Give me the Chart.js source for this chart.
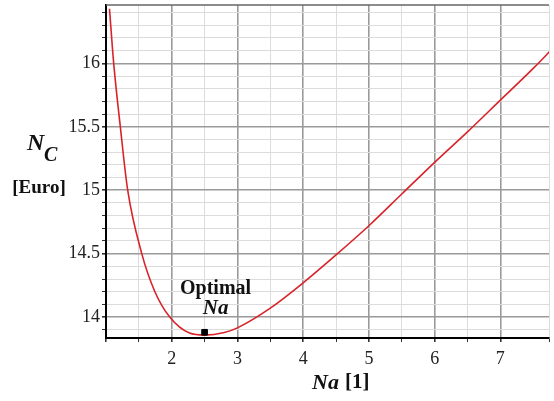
<!DOCTYPE html>
<html>
<head>
<meta charset="utf-8">
<script src="https://cdn.jsdelivr.net/npm/chart.js@4"></script>
<style>
  body { margin: 0; background: #fff; overflow: hidden; }
</style>
</head>
<body>
<canvas id="costChart" width="554" height="401"></canvas>
<script>
// curve
let naValues   = [1.053, 1.117, 1.218, 1.33, 1.544, 1.744, 1.97, 2.27, 2.5, 2.8, 3.0, 3.5, 4.0, 4.5, 5.0, 5.5, 6.0, 6.5, 7.0, 7.5, 7.8];
let costValues = [16.43, 16.0, 15.5, 15.0, 14.5, 14.2, 14.0, 13.874, 13.858, 13.878, 13.915, 14.07, 14.27, 14.49, 14.72, 14.97, 15.22, 15.46, 15.71, 15.96, 16.12];

let optimalNa = [2.5];
let optimalCost = [13.88];

let xLabels = [2, 3, 4, 5, 6, 7];
let yLabels = [14, 14.5, 15, 15.5, 16];

let serif = '"Liberation Serif", "DejaVu Serif", serif';

function near(v, list) {
    return list.some(l => Math.abs(v - l) < 1e-6);
}
function isMajor(v, step) {
    let r = v / step;
    return Math.abs(r - Math.round(r)) < 1e-6;
}

let curve = naValues.map((x, i) => ({x: x, y: costValues[i]}));
let optimum = optimalNa.map((x, i) => ({x: x, y: optimalCost[i]}));

// titles + optimum label + top frame line
let decorations = {
    id: 'decorations',
    afterDraw(chart) {
        let ctx = chart.ctx;
        let area = chart.chartArea;
        ctx.save();

        ctx.strokeStyle = '#666';
        ctx.lineWidth = 1.5;
        ctx.beginPath();
        ctx.moveTo(area.left, area.top);
        ctx.lineTo(area.right, area.top);
        ctx.stroke();

        ctx.fillStyle = '#111';
        ctx.textBaseline = 'middle';

        // y title
        ctx.textAlign = 'left';
        ctx.font = 'italic bold 24px ' + serif;
        ctx.fillText('N', 27, 144);
        ctx.font = 'italic bold 20px ' + serif;
        ctx.fillText('C', 44, 156);
        ctx.textAlign = 'center';
        ctx.font = 'bold 19px ' + serif;
        ctx.fillText('[Euro]', 39, 188);

        // x title
        ctx.textAlign = 'left';
        ctx.font = 'italic bold 22px ' + serif;
        ctx.fillText('Na', 312, 383);
        ctx.font = 'bold 21px ' + serif;
        ctx.fillText('[1]', 345, 383);

        // optimum label
        let px = chart.scales.x.getPixelForValue(optimalNa[0]);
        let py = chart.scales.y.getPixelForValue(optimalCost[0]);
        ctx.textAlign = 'center';
        ctx.font = 'bold 20px ' + serif;
        ctx.fillText('Optimal', px + 11, py - 43);
        ctx.font = 'italic bold 21px ' + serif;
        ctx.fillText('Na', px + 11, py - 24);

        ctx.restore();
    }
};

let chartEl = document.getElementById('costChart');

var costChart = new Chart(chartEl, {
    type: 'scatter',
    data: {
        datasets: [
            {
                label: 'N_C',
                data: curve,
                showLine: true,
                borderColor: '#d8232a',
                borderWidth: 1.6,
                pointRadius: 0,
                cubicInterpolationMode: 'monotone',
                order: 2
            },
            {
                label: 'Optimal Na',
                data: optimum,
                pointStyle: 'rect',
                pointRadius: 4,
                backgroundColor: '#000',
                borderColor: '#000',
                borderWidth: 1,
                order: 1
            }
        ]
    },
    options: {
        responsive: false,
        animation: false,
        layout: { padding: { top: 4, right: 0, left: 0, bottom: 0 } },
        plugins: {
            legend: { display: false },
            tooltip: { enabled: false }
        },
        scales: {
            x: {
                type: 'linear',
                min: 1.0,
                max: 7.74,
                afterFit(scale) {
                    scale.height = 63;
                    scale.paddingLeft = 0;
                    scale.paddingRight = 0;
                },
                ticks: {
                    stepSize: 0.5,
                    autoSkip: false,
                    maxRotation: 0,
                    padding: 6,
                    color: '#222',
                    font: { family: serif, size: 18 },
                    callback: (v) => near(v, xLabels) ? String(v) : ''
                },
                grid: {
                    color: (c) => isMajor(c.tick.value, 1) ? '#9a9a9a' : '#dcdcdc',
                    lineWidth: (c) => isMajor(c.tick.value, 1) ? 1.6 : 1,
                    tickColor: '#333',
                    tickLength: 4
                },
                border: { color: '#000', width: 2 }
            },
            y: {
                type: 'linear',
                min: 13.835,
                max: 16.46,
                afterFit(scale) {
                    scale.width = 106;
                    scale.paddingTop = 0;
                    scale.paddingBottom = 0;
                },
                ticks: {
                    stepSize: 0.1,
                    includeBounds: false,
                    autoSkip: false,
                    padding: 2,
                    color: '#222',
                    font: { family: serif, size: 18 },
                    callback: (v) => near(v, yLabels) ? String(Math.round(v * 10) / 10) : ''
                },
                grid: {
                    color: (c) => isMajor(c.tick.value, 0.5) ? '#9a9a9a' : '#dcdcdc',
                    lineWidth: (c) => isMajor(c.tick.value, 0.5) ? 1.6 : 1,
                    tickColor: '#333',
                    tickLength: 4
                },
                border: { color: '#000', width: 2 }
            }
        }
    },
    plugins: [decorations]
});
</script>
</body>
</html>
